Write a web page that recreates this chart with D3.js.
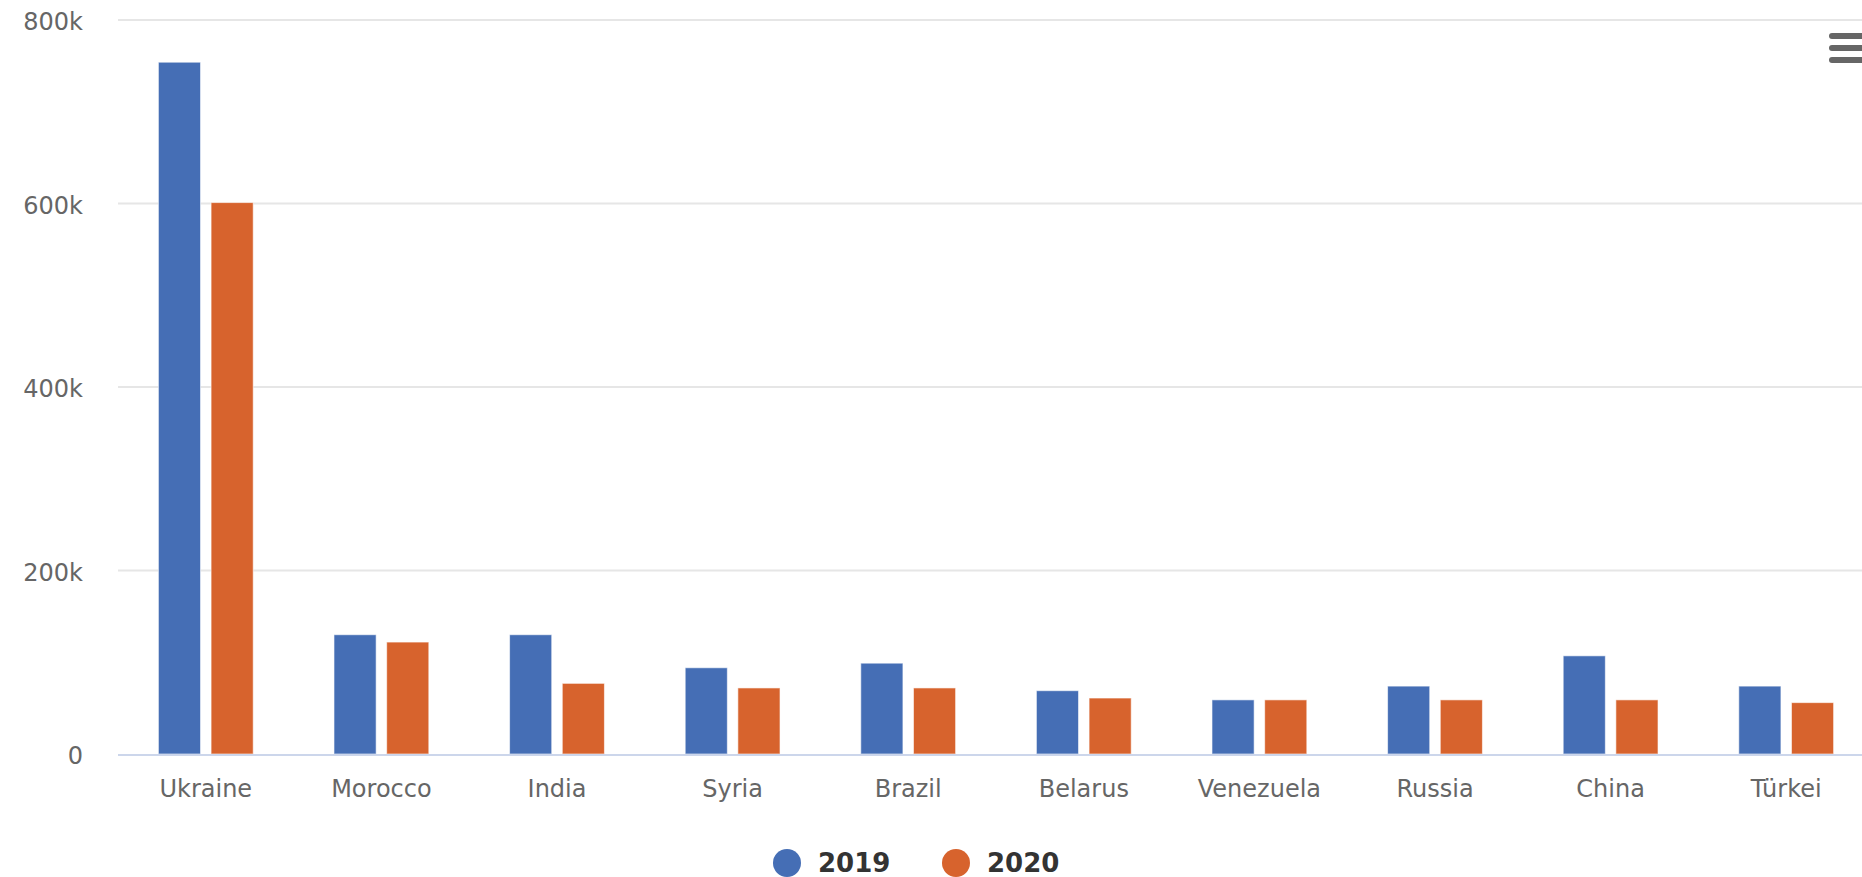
<!DOCTYPE html>
<html>
<head>
<meta charset="utf-8">
<script src="https://cdn.jsdelivr.net/npm/d3@7"></script>
<style>
  html, body { margin: 0; padding: 0; background: #fff; overflow: hidden; }
  svg { display: block; font-family: "DejaVu Sans", Verdana, sans-serif; }
</style>
</head>
<body>
<svg id="chart" width="1862" height="877"></svg>
<script>
const categories = ["Ukraine", "Morocco", "India", "Syria", "Brazil", "Belarus", "Venezuela", "Russia", "China", "Türkei"];
const seriesNames = ["2019", "2020"];
const values2019 = [754000, 130000, 130000, 94000, 99000, 69000, 59000, 74000, 107000, 74000];
const values2020 = [601000, 122000, 77000, 72000, 72000, 61000, 59000, 59000, 59000, 56000];
const seriesColors = ["#456EB5", "#D7632D"];
const yTicks = [0, 200000, 400000, 600000, 800000];
const yTickLabels = ["0", "200k", "400k", "600k", "800k"];

const seriesValues = [values2019, values2020];

const svg = d3.select("#chart");
const margin = { left: 118, top: 20, bottom: 754, right: 1874 };

const x0 = d3.scaleBand().domain(categories).range([margin.left, margin.right]).paddingInner(0).paddingOuter(0);
const step = x0.step();
const x1 = d3.scaleBand().domain(seriesNames)
  .range([0.2 * step, 0.8 * step]).paddingInner(0.2).paddingOuter(0.1);
const y = d3.scaleLinear().domain([0, 800000]).range([margin.bottom, margin.top]);

// gridlines
const grid = svg.append("g");
grid.selectAll("line").data(yTicks.filter(d => d !== 0)).enter().append("line")
  .attr("x1", margin.left).attr("x2", 1862)
  .attr("y1", d => y(d)).attr("y2", d => y(d))
  .attr("stroke", "#e6e6e6").attr("stroke-width", 2);

// y labels
const yAxis = d3.axisLeft(y).tickValues(yTicks)
  .tickFormat((d, i) => yTickLabels[i]).tickSize(0).tickPadding(0);
const yg = svg.append("g").attr("transform", `translate(83,2)`).call(yAxis);
yg.select(".domain").remove();
yg.selectAll("text").attr("fill", "#666").attr("font-size", "24px")
  .attr("font-family", "'DejaVu Sans', Verdana, sans-serif");

// bars
const groups = svg.append("g").selectAll("g").data(seriesNames).enter().append("g")
  .attr("fill", (d, i) => seriesColors[i]);
groups.selectAll("rect").data((s, si) => categories.map((c, ci) => ({ c, s, v: seriesValues[si][ci] })))
  .enter().append("rect")
  .attr("x", d => x0(d.c) + x1(d.s))
  .attr("width", x1.bandwidth())
  .attr("y", d => y(d.v))
  .attr("height", d => y(0) - y(d.v))
  .attr("stroke", "#fff").attr("stroke-opacity", 0.6).attr("stroke-width", 1);

// x axis line
svg.append("line").attr("x1", margin.left).attr("x2", 1862)
  .attr("y1", y(0) + 1).attr("y2", y(0) + 1)
  .attr("stroke", "#ccd6eb").attr("stroke-width", 2);

// x labels
const xAxis = d3.axisBottom(x0).tickSize(0).tickPadding(0);
const xg = svg.append("g").attr("transform", `translate(0,${y(0) + 26})`).call(xAxis);
xg.select(".domain").remove();
xg.selectAll("text").attr("fill", "#666").attr("font-size", "24px")
  .attr("font-family", "'DejaVu Sans', Verdana, sans-serif");

// legend
const legendItems = [
  { name: seriesNames[0], color: seriesColors[0], cx: 787, tx: 818 },
  { name: seriesNames[1], color: seriesColors[1], cx: 956, tx: 987 }
];
const lg = svg.append("g");
legendItems.forEach(it => {
  lg.append("circle").attr("cx", it.cx).attr("cy", 863).attr("r", 14).attr("fill", it.color);
  lg.append("text").attr("x", it.tx).attr("y", 872).text(it.name)
    .attr("font-size", "26px").attr("font-weight", "bold").attr("fill", "#333");
});

// menu icon
const menu = svg.append("g");
[36, 48, 60].forEach(yy => {
  menu.append("line").attr("x1", 1832).attr("x2", 1870).attr("y1", yy).attr("y2", yy)
    .attr("stroke", "#666").attr("stroke-width", 6).attr("stroke-linecap", "round");
});
</script>
</body>
</html>
